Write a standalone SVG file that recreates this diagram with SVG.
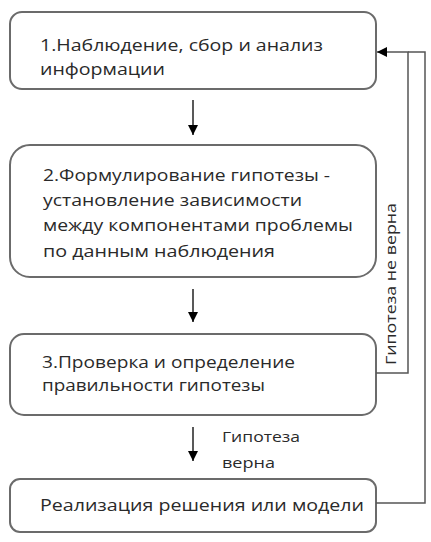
<svg xmlns="http://www.w3.org/2000/svg" width="431" height="542" viewBox="0 0 431 542">
<defs>
<marker id="ah" viewBox="0 0 10 10" refX="10" refY="5" markerWidth="10" markerHeight="10" markerUnits="userSpaceOnUse" orient="auto">
<path d="M0,0 L10,5 L0,10 Z" fill="#000"/>
</marker>
</defs>
<style>
.box{fill:#fff;stroke:#6b6b6b;stroke-width:2}
.t{font-family:"Open Sans","Liberation Sans",sans-serif;font-size:17px;fill:#2a2a2a}
.s{font-family:"Open Sans","Liberation Sans",sans-serif;font-size:15px;fill:#2a2a2a}
.c{fill:none;stroke:#555;stroke-width:1.5}
.a{fill:none;stroke:#222;stroke-width:1.5}
</style>
<rect width="431" height="542" fill="#fff"/>
<g id="n1">
<rect class="box" x="10" y="12" width="366" height="77" rx="12"/>
<text class="t" x="40" y="51" textLength="283" lengthAdjust="spacingAndGlyphs">1.Наблюдение, сбор и анализ</text>
<text class="t" x="40" y="75" textLength="125" lengthAdjust="spacingAndGlyphs">информации</text>
</g>
<g id="n2">
<rect class="box" x="10" y="145" width="366" height="132" rx="20"/>
<text class="t" x="43" y="181" textLength="287" lengthAdjust="spacingAndGlyphs">2.Формулирование гипотезы -</text>
<text class="t" x="43" y="206" textLength="259" lengthAdjust="spacingAndGlyphs">установление зависимости</text>
<text class="t" x="43" y="231" textLength="310" lengthAdjust="spacingAndGlyphs">между компонентами проблемы</text>
<text class="t" x="43" y="257" textLength="232" lengthAdjust="spacingAndGlyphs">по данным наблюдения</text>
</g>
<g id="n3">
<rect class="box" x="10" y="334" width="366" height="81" rx="14"/>
<text class="t" x="42" y="368" textLength="253" lengthAdjust="spacingAndGlyphs">3.Проверка и определение</text>
<text class="t" x="42" y="391" textLength="223" lengthAdjust="spacingAndGlyphs">правильности гипотезы</text>
</g>
<g id="n4">
<rect class="box" x="10" y="479" width="366" height="53" rx="10"/>
<text class="t" x="40" y="511" textLength="324" lengthAdjust="spacingAndGlyphs">Реализация решения или модели</text>
</g>
<g id="connectors">
<line class="a" x1="193" y1="100" x2="193" y2="135" marker-end="url(#ah)"/>
<line class="a" x1="193" y1="289" x2="193" y2="322" marker-end="url(#ah)"/>
<line class="a" x1="193" y1="427" x2="193" y2="461" marker-end="url(#ah)"/>
<path class="c" d="M376,373 H408 V52 H377" marker-end="url(#ah)"/>
<path class="c" d="M376,503 H425 V52 H408"/>
<text class="s" x="222" y="442" textLength="78" lengthAdjust="spacingAndGlyphs">Гипотеза</text>
<text class="s" x="222" y="468" textLength="53" lengthAdjust="spacingAndGlyphs">верна</text>
<text class="s" transform="translate(396,284) rotate(-90)" text-anchor="middle" x="0" y="0" textLength="162" lengthAdjust="spacingAndGlyphs">Гипотеза не верна</text>
</g>
</svg>
